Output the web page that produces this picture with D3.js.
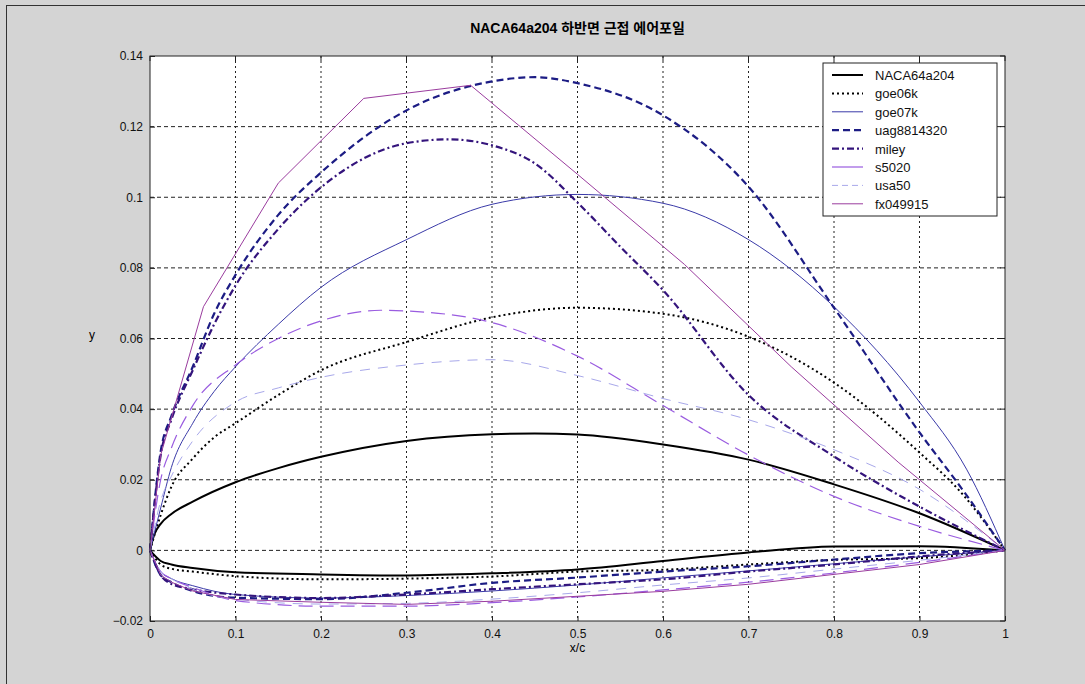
<!DOCTYPE html>
<html>
<head>
<meta charset="utf-8">
<script src="https://cdn.jsdelivr.net/npm/d3@7"></script>
<style>
  body { margin: 0; background: #d4d4d4; }
  svg { display: block; }
  text { font-family: Arial, "Liberation Sans", "Noto Sans CJK KR", sans-serif; }
</style>
</head>
<body>
<div id="chart"></div>
<script>
// airfoil names and styles
var names = ['NACA64a204', 'goe06k', 'goe07k', 'uag8814320', 'miley', 's5020', 'usa50', 'fx049915'];
var colors = ['#000000', '#000000', '#3a3aa8', '#1c1c84', '#34147c', '#9a5ce0', '#a8a8ea', '#9a3c9e'];

// upper surface stations (x/c) and y values, one per airfoil
var naca64a204X = [0, 0.005, 0.0125, 0.025, 0.05, 0.1, 0.15, 0.2, 0.3, 0.4, 0.45, 0.5, 0.6, 0.7, 0.8, 0.9, 1];
var naca64a204Y = [0, 0.0045, 0.0075, 0.0103, 0.0138, 0.0193, 0.0233, 0.0265, 0.031, 0.0329, 0.0331, 0.0328, 0.030, 0.0257, 0.0187, 0.0105, 0];

var goe06kX = [0, 0.0125, 0.025, 0.05, 0.075, 0.1, 0.15, 0.2, 0.3, 0.4, 0.5, 0.6, 0.7, 0.8, 0.9, 0.95, 1];
var goe06kY = [0, 0.01, 0.018, 0.026, 0.032, 0.036, 0.044, 0.051, 0.059, 0.066, 0.0687, 0.067, 0.0605, 0.0475, 0.0277, 0.016, 0];

var goe07kX = [0, 0.0125, 0.025, 0.05, 0.075, 0.1, 0.15, 0.2, 0.3, 0.4, 0.5, 0.6, 0.7, 0.8, 0.9, 0.955, 1];
var goe07kY = [0, 0.012, 0.0235, 0.036, 0.045, 0.052, 0.064, 0.0745, 0.088, 0.098, 0.1008, 0.0983, 0.088, 0.069, 0.042, 0.023, 0];

var uag8814320X = [0, 0.0125, 0.025, 0.05, 0.075, 0.1, 0.15, 0.2, 0.3, 0.4, 0.45, 0.5, 0.6, 0.7, 0.8, 0.9, 0.95, 1];
var uag8814320Y = [0, 0.028, 0.038, 0.052, 0.067, 0.078, 0.095, 0.107, 0.1246, 0.1328, 0.134, 0.1323, 0.1232, 0.103, 0.0687, 0.0334, 0.0173, 0];

var mileyX = [0, 0.0125, 0.025, 0.05, 0.075, 0.1, 0.15, 0.2, 0.3, 0.35, 0.4, 0.45, 0.5, 0.55, 0.6, 0.7, 0.8, 0.9, 1];
var mileyY = [0, 0.027, 0.037, 0.051, 0.064, 0.075, 0.091, 0.1028, 0.1153, 0.1164, 0.1147, 0.1096, 0.0985, 0.086, 0.0737, 0.044, 0.0266, 0.0124, 0];

var s5020X = [0, 0.0125, 0.025, 0.05, 0.1, 0.15, 0.2, 0.27, 0.3, 0.4, 0.5, 0.6, 0.7, 0.8, 0.9, 1];
var s5020Y = [0, 0.02, 0.029, 0.041, 0.0525, 0.06, 0.065, 0.068, 0.0678, 0.0645, 0.055, 0.041, 0.027, 0.0153, 0.0068, 0];

var usa50X = [0, 0.0125, 0.025, 0.05, 0.1, 0.15, 0.2, 0.3, 0.4, 0.5, 0.6, 0.7, 0.8, 0.9, 1];
var usa50Y = [0, 0.014, 0.021, 0.031, 0.042, 0.046, 0.049, 0.0525, 0.054, 0.0495, 0.043, 0.037, 0.0285, 0.0173, 0];

var fx049915X = [0, 0.0125, 0.0625, 0.15, 0.25, 0.375, 0.5, 0.625, 0.75, 0.875, 1];
var fx049915Y = [0, 0.027, 0.069, 0.104, 0.128, 0.1317, 0.1065, 0.081, 0.052, 0.025, 0];

// lower surface stations shared by all airfoils
var lowerX = [0, 0.0125, 0.025, 0.05, 0.1, 0.2, 0.3, 0.4, 0.5, 0.6, 0.7, 0.8, 0.9, 1];
var naca64a204Low = [0, -0.003, -0.004, -0.005, -0.0062, -0.0068, -0.0071, -0.0065, -0.0054, -0.003, -0.0006, 0.0011, 0.0012, 0];
var goe06kLow = [0, -0.004, -0.0052, -0.006, -0.0073, -0.0082, -0.008, -0.0074, -0.006, -0.0055, -0.004, -0.0027, -0.0022, 0];
var goe07kLow = [0, -0.006, -0.008, -0.010, -0.0125, -0.0135, -0.0128, -0.0115, -0.0098, -0.0078, -0.0058, -0.0038, -0.0018, 0];
var uag8814320Low = [0, -0.007, -0.009, -0.0115, -0.0134, -0.0138, -0.012, -0.0092, -0.0077, -0.006, -0.0045, -0.0026, -0.0008, 0];
var mileyLow = [0, -0.007, -0.0095, -0.011, -0.0125, -0.0135, -0.0125, -0.011, -0.0096, -0.0082, -0.006, -0.004, -0.0017, 0];
var s5020Low = [0, -0.006, -0.008, -0.0105, -0.0142, -0.0158, -0.0158, -0.0148, -0.0132, -0.0112, -0.009, -0.0064, -0.0034, 0];
var usa50Low = [0, -0.006, -0.008, -0.011, -0.0138, -0.0152, -0.015, -0.0138, -0.012, -0.0098, -0.0078, -0.0053, -0.0028, 0];
var fx049915Low = [0, -0.007, -0.009, -0.0115, -0.0139, -0.0147, -0.0153, -0.0144, -0.013, -0.0116, -0.0096, -0.0068, -0.004, 0];

// axis ticks
var xTicks = [0, 0.1, 0.2, 0.3, 0.4, 0.5, 0.6, 0.7, 0.8, 0.9, 1];
var yTicks = [-0.02, 0, 0.02, 0.04, 0.06, 0.08, 0.1, 0.12, 0.14];

var upperX = [naca64a204X, goe06kX, goe07kX, uag8814320X, mileyX, s5020X, usa50X, fx049915X];
var upperY = [naca64a204Y, goe06kY, goe07kY, uag8814320Y, mileyY, s5020Y, usa50Y, fx049915Y];
var lowerY = [naca64a204Low, goe06kLow, goe07kLow, uag8814320Low, mileyLow, s5020Low, usa50Low, fx049915Low];

var widths = [2, 2, 1, 2.2, 2.2, 1.2, 1, 1];
var dashes = [null, '2,3', null, '7,4', '7,3,2,3', '14,7', '10,8', null];

var width = 1085;
var height = 684;
var margin = {left: 150, right: 80, top: 56, bottom: 63};

var svg = d3.select('#chart')
  .append('svg')
  .attr('width', width)
  .attr('height', height);

// window frame
svg.append('rect')
  .attr('x', 6.5).attr('y', 5.5)
  .attr('width', width).attr('height', height)
  .attr('fill', '#d4d4d4')
  .attr('stroke', '#333');

var x = d3.scaleLinear().domain([0, 1]).range([margin.left, width - margin.right]);
var y = d3.scaleLinear().domain([-0.02, 0.14]).range([height - margin.bottom, margin.top]);

svg.append('rect')
  .attr('x', x(0)).attr('y', y(0.14))
  .attr('width', x(1) - x(0)).attr('height', y(-0.02) - y(0.14))
  .attr('fill', '#fff');

// grid
svg.append('g').selectAll('line')
  .data(xTicks.slice(1, -1))
  .enter().append('line')
  .attr('x1', function (d) { return x(d); })
  .attr('x2', function (d) { return x(d); })
  .attr('y1', y(0.14)).attr('y2', y(-0.02))
  .attr('stroke', '#222').attr('stroke-dasharray', '2,3');

svg.append('g').selectAll('line')
  .data(yTicks.slice(1, -1))
  .enter().append('line')
  .attr('y1', function (d) { return y(d); })
  .attr('y2', function (d) { return y(d); })
  .attr('x1', x(0)).attr('x2', x(1))
  .attr('stroke', '#222').attr('stroke-dasharray', '4,3');

// axes
var fmt = function (d) { return d === 0 ? '0' : d3.format('')(+d.toFixed(2)); };

var xAxis = svg.append('g')
  .attr('transform', 'translate(0,' + y(-0.02) + ')')
  .call(d3.axisBottom(x).tickValues(xTicks).tickSize(-5).tickPadding(8).tickFormat(fmt));

var yAxis = svg.append('g')
  .attr('transform', 'translate(' + x(0) + ',0)')
  .call(d3.axisLeft(y).tickValues(yTicks).tickSize(-5).tickPadding(7).tickFormat(fmt));

[xAxis, yAxis].forEach(function (a) {
  a.select('.domain').remove();
  a.selectAll('text').attr('font-size', 12).attr('fill', '#111');
  a.selectAll('line').attr('stroke', '#222');
});

svg.append('g').selectAll('line')
  .data(xTicks)
  .enter().append('line')
  .attr('x1', function (d) { return x(d); })
  .attr('x2', function (d) { return x(d); })
  .attr('y1', y(0.14)).attr('y2', y(0.14) + 5)
  .attr('stroke', '#222');

svg.append('g').selectAll('line')
  .data(yTicks)
  .enter().append('line')
  .attr('y1', function (d) { return y(d); })
  .attr('y2', function (d) { return y(d); })
  .attr('x1', x(1)).attr('x2', x(1) - 5)
  .attr('stroke', '#222');

// airfoil curves
var line = d3.line()
  .x(function (d) { return x(d[0]); })
  .y(function (d) { return y(d[1]); });

var plot = svg.append('g');

names.forEach(function (name, i) {
  var upper = upperX[i].map(function (v, j) { return [v, upperY[i][j]]; });
  var lower = lowerX.map(function (v, j) { return [v, lowerY[i][j]]; });
  var curve = i === 7 ? d3.curveLinear : d3.curveMonotoneX;
  [upper, lower].forEach(function (pts) {
    plot.append('path')
      .datum(pts)
      .attr('d', line.curve(curve))
      .attr('fill', 'none')
      .attr('stroke', colors[i])
      .attr('stroke-width', widths[i])
      .attr('stroke-dasharray', dashes[i]);
  });
});

svg.append('rect')
  .attr('x', x(0)).attr('y', y(0.14))
  .attr('width', x(1) - x(0)).attr('height', y(-0.02) - y(0.14))
  .attr('fill', 'none')
  .attr('stroke', '#222');

// labels
svg.append('text')
  .attr('x', (x(0) + x(1)) / 2).attr('y', 33)
  .attr('text-anchor', 'middle')
  .attr('font-size', 14).attr('font-weight', 'bold')
  .text('NACA64a204 하반면 근접 에어포일');

svg.append('text')
  .attr('x', (x(0) + x(1)) / 2).attr('y', 652)
  .attr('text-anchor', 'middle')
  .attr('font-size', 12)
  .text('x/c');

svg.append('text')
  .attr('x', 92).attr('y', 339)
  .attr('text-anchor', 'middle')
  .attr('font-size', 12)
  .text('y');

// legend
var legend = svg.append('g').attr('transform', 'translate(823,63)');
legend.append('rect')
  .attr('width', 174).attr('height', 153)
  .attr('fill', '#fff').attr('stroke', '#222');

var item = legend.selectAll('.item')
  .data(names)
  .enter().append('g')
  .attr('class', 'item')
  .attr('transform', function (d, i) { return 'translate(0,' + (12 + i * 18.4) + ')'; });

item.append('line')
  .attr('x1', 9).attr('x2', 40)
  .attr('stroke', function (d, i) { return colors[i]; })
  .attr('stroke-width', function (d, i) { return widths[i]; })
  .attr('stroke-dasharray', function (d, i) { return i === 5 ? null : (i === 6 ? '6,4' : dashes[i]); });

item.append('text')
  .attr('x', 52).attr('y', 5)
  .attr('font-size', 13)
  .attr('fill', '#111')
  .text(function (d) { return d; });
</script>
</body>
</html>
